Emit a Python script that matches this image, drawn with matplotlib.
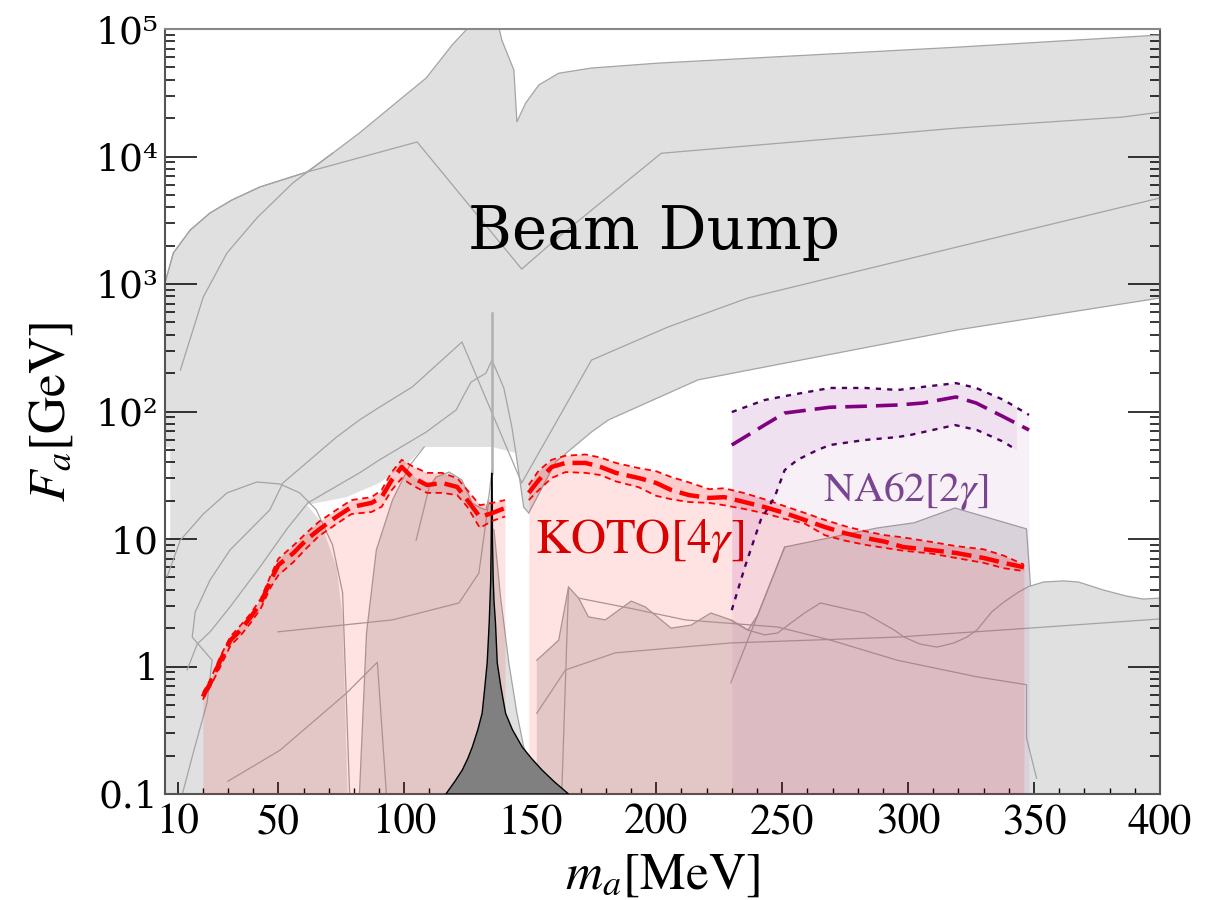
import matplotlib
matplotlib.use('Agg')
import matplotlib.pyplot as plt
import numpy as np

plt.rcParams['mathtext.fontset'] = 'stix'
plt.rcParams['font.family'] = ['STIXGeneral', 'DejaVu Serif']

# ---------------- data (m_a in MeV, F_a in GeV) ----------------
# beam dump region: upper envelope, lower boundary (right to left), left strip
bd_x = [5, 8.3, 15, 22.9, 31.6, 42.7, 61.3, 71.5, 82.2, 98, 108.7, 119, 125.7, 131, 137.5,
        138.7, 143.5, 144.7, 148.2, 153.4, 161.3, 174.3, 200.8, 319.4, 400,
        400, 319.4, 216.6, 181, 174.3, 160.1, 149.4,
        147.4, 144.3, 134.8,
        107.9, 102, 90.1, 77.1, 61.3, 66.4, 73.1, 75.5, 77.5, 5, 5, 7.1, 7.1, 5]
bd_y = [1020, 1750, 2650, 3610, 4560, 5770, 7550, 10600, 15300, 27700, 41300, 75000, 1.04e5, 2e5, 1.04e5,
        82000, 47700, 18700, 26300, 36400, 45000, 49400, 54000, 72000, 89700,
        777, 436, 177, 85.8, 69, 40.2, 16,
        17.8, 47.3, 52.7,
        52.7, 40.2, 27.5, 21.3, 18.5, 14.1, 6.03, 2.45, 0.1, 0.1, 9.8, 9.8, 52.7, 52.7]

# narrow sliver right of the pion pole
sl_x = [134.8, 135.6, 138.2, 141.5, 144.7, 147.4, 149.4, 134.8]
sl_y = [40, 11.8, 3.5, 1.07, 0.43, 0.234, 0.18, 0.18]

# dome region between 82 and 135 MeV
dome_x = [82.2, 85, 88.9, 95.3, 101.2, 105.1, 109.9, 112.6, 117.8, 122.9, 126.9, 129.6, 132.4, 134.8, 134.8]
dome_y = [0.1, 1.83, 8.2, 20.2, 33.5, 29.6, 25.6, 30.6, 33.5, 29, 19.2, 17.8, 16.9, 20.2, 0.1]

# lower right region
lr_x = [152.6, 152.6, 161.3, 165.2, 169.2, 173.1, 179.8, 190.1, 195.7, 205.9, 213.8, 221.7, 229.6,
        236.4, 240.3, 251, 287.7, 302.4, 318.6, 347, 348.6, 353.8, 361.7, 367.6, 377.5, 386.6,
        393.3, 400, 400]
lr_y = [0.1, 1.12, 1.61, 4.2, 3.44, 2.45, 2.32, 3.26, 2.93, 2.0, 2.11, 2.63, 2.32,
        1.93, 2.53, 8.65, 12.2, 13.4, 17.5, 12, 4.28, 4.6, 4.69, 4.6, 3.98, 3.57,
        3.38, 3.44, 0.1]

# individual limit curves drawn as thin gray lines
curves = [
    ([5, 8.3, 15, 22.9, 31.6, 42.7, 61.3, 105.1, 146.6, 161.3, 202, 319.4, 385.4, 400],
     [1020, 1750, 2650, 3610, 4560, 5770, 7550, 13000, 1310, 2340, 10600, 16700, 20400, 22300]),
    ([11.1, 20.2, 29.6, 41.5, 55.7, 71.5], [211, 791, 1750, 3300, 6190, 10600]),
    ([11.9, 16.2, 21.7, 23.7, 15.8, 17, 22.9, 30.8, 46.6, 51.8, 73.1, 82.2, 90.1, 103.2, 122.9,
      146.6, 174.3, 204.7, 236.4, 319.4, 400],
     [0.1, 0.21, 0.52, 1.12, 1.70, 2.68, 4.77, 8.2, 16.9, 27.5, 63, 85.8, 108, 156, 351,
      27.5, 253, 460, 777, 1950, 4730]),
    ([13.8, 17.8, 22.9, 30.8, 42.7, 53.4, 61.7, 82.2, 90.1, 108.7, 120.6, 123.7, 126.5, 132.4,
      134.8, 139.5, 142.7, 144.3, 147.4, 149.4],
     [0.94, 1.5, 1.87, 2.93, 6.03, 12, 19.2, 33, 41.7, 69, 103, 135, 170, 200,
      253, 153, 75.5, 47.3, 17.8, 16]),
    ([5.9, 11.1, 20.2, 29.6, 41.5, 50.6, 58.5, 65, 71.5, 75.5, 78.3],
     [5.1, 9.8, 15.7, 23, 28, 27, 23, 17, 9.0, 3.8, 0.1]),
    ([82.2, 85, 88.9, 95.3, 102, 107.9], [0.1, 1.83, 8.2, 20.2, 37.4, 52.7]),
    ([104.7, 109.9, 112.6, 117.8, 122.9, 126.9, 129.6, 132.4, 133.6, 134.8],
     [9.8, 25.6, 30.6, 33.5, 29, 19.2, 17.8, 16.9, 21.6, 35]),
    ([49.8, 95.3, 121.7, 129.6, 133.6], [1.87, 2.32, 3.15, 5.4, 20.2]),
    ([30, 50.6, 77.1, 89.3, 92.9], [0.126, 0.22, 0.62, 1.08, 0.1]),
    ([152.6, 164, 183.8, 229.6, 295.7, 348.2, 400], [0.43, 0.94, 1.28, 1.53, 1.70, 2.0, 2.36]),
    ([169.2, 190.1, 211.5, 248.2, 269.2, 295.7, 327.3, 347, 347, 351],
     [3.44, 2.85, 2.32, 2.04, 1.61, 1.12, 0.83, 0.72, 0.275, 0.133]),
    ([229.6, 236.4, 243.1, 248.2, 253.4, 258.9, 265.2, 282.6, 294.5, 298.4, 304.7, 311.5, 318.2,
      323.3, 327.3, 333.2, 338, 343.9, 348.2],
     [2.32, 1.93, 1.77, 1.83, 2.19, 2.63, 3.15, 2.63, 1.93, 1.70, 1.50, 1.42, 1.53,
      1.70, 1.93, 2.68, 3.2, 3.84, 4.28]),
    ([165.2, 162.5], [4.2, 0.1]),
    ([229.6, 251], [0.743, 8.65]),
    ([135.6, 138.2, 141.5, 144.7, 147.4, 149.4], [11.8, 3.5, 1.07, 0.43, 0.234, 0.18]),
]
pion_line_y = [593, 33]

# pion pole
pi_x = [116.5, 120, 123, 125.2, 127, 129.2, 130.9, 132, 132.9, 133.7, 134.3, 134.5, 134.7,
        135.0, 135.3, 135.6, 136.2, 136.9, 138.3, 140.2, 142.9, 146.8, 150.5, 154.7, 159.5, 165.2]
pi_y = [0.1, 0.125, 0.154, 0.19, 0.234, 0.32, 0.43, 0.7, 1.07, 2.2, 4.77, 10, 33,
        10, 4.77, 3.3, 2.2, 1.07, 0.7, 0.43, 0.32, 0.234, 0.19, 0.154, 0.125, 0.1]

# KOTO [4 gamma]
koto1_x = [20, 23, 27, 31, 35, 39, 43, 47, 50, 56, 61, 66, 73, 79, 87, 91, 95, 99, 103, 109,
           115, 121, 125, 130, 135, 140]
koto1_c = [0.58, 0.74, 1.12, 1.61, 1.93, 2.44, 3.15, 4.77, 6.25, 7.76, 9.8, 11.8, 14.9, 17.8,
           19.2, 21.3, 29, 36.7, 30.6, 26.5, 27.5, 25.6, 20.2, 14.9, 16, 17.5]
koto1_hi = [0.62, 0.79, 1.2, 1.72, 2.1, 2.6, 3.4, 5.2, 7.0, 8.9, 11.1, 13.6, 16.9, 20.2, 21.3,
            24.2, 33.5, 41.8, 37.4, 33, 33, 30, 24.2, 18.4, 19.2, 20.2]
koto1_lo = [0.55, 0.70, 1.0, 1.46, 1.75, 2.2, 2.85, 4.2, 5.2, 6.6, 8.4, 10.5, 13.1, 15.7, 16.3,
            17.9, 24.2, 30, 26.5, 23, 23, 22.1, 17.9, 12.2, 13.9, 15]
koto2_x = [149.4, 153.4, 158.5, 164, 172, 178, 184, 193, 200, 206, 213, 221, 227, 235, 243, 251,
           259, 267, 275, 283, 291, 298, 309, 319, 330, 338, 346]
koto2_c = [23, 29, 36.7, 39.5, 39.5, 36.7, 33, 30.1, 27.5, 24.2, 22.1, 21, 21.3, 19.5, 17.8, 16,
           14.1, 12.4, 11.1, 10.2, 9.5, 8.65, 8.2, 7.77, 7.1, 6.5, 6.0]
koto2_hi = [26.5, 34.5, 41.8, 45, 46, 43.5, 39.5, 36, 34, 30.6, 27.8, 24.6, 25, 22.9, 20.5, 18.1,
            16, 14.1, 12.6, 11.5, 10.7, 10.3, 9.5, 8.8, 8.3, 7.4, 6.3]
koto2_lo = [20.2, 24.2, 30.1, 33.5, 33, 31.7, 28.3, 25.5, 21.8, 20.5, 19.5, 19.2, 18.4, 17.2, 15.9,
            14.4, 13.2, 10.7, 9.7, 9.0, 8.5, 8.1, 7.7, 7.1, 6.5, 5.9, 5.6]

# NA62 [2 gamma]
na62_x = [230, 243, 251, 269, 283, 296, 306, 319, 327, 338, 348]
na62_c = [54.6, 78.3, 97.3, 108, 110, 112.5, 116.6, 130, 116.6, 90.6, 71.6]
na62_hi = [99, 123, 132, 153, 153, 147.5, 156, 167, 153, 123, 94]
na62_lo_x = [230, 235.2, 241.5, 247, 251, 256, 264, 269, 282.6, 295.7, 300.8, 318.6, 327.3, 338, 343]
na62_lo = [2.77, 6.03, 14.1, 21.3, 34.7, 41.7, 49.9, 54.6, 59.7, 63, 65.4, 78.3, 71.6, 57.7, 49.9]

# ---------------- figure ----------------
fig = plt.figure(figsize=(12.24, 9), dpi=100)
ax = fig.add_axes([165 / 1224, 1 - 794 / 900, 995 / 1224, 765 / 900])
ax.set_yscale('log')
ax.set_xlim(5, 400)
ax.set_ylim(0.1, 1e5)

gfill = '#e0e0e0'
gline = '#a4a4a4'
ax.fill(bd_x, bd_y, color=gfill, lw=0, zorder=1)
ax.fill(sl_x, sl_y, color=gfill, lw=0, zorder=1)
ax.fill(dome_x, dome_y, color=gfill, lw=0, zorder=1)
ax.fill(lr_x, lr_y, color=gfill, lw=0, zorder=1)

ax.plot(bd_x[:25], bd_y[:25], color=gline, lw=0.9, zorder=2)
ax.plot(bd_x[25:32], bd_y[25:32], color=gline, lw=0.9, zorder=2)
ax.plot(lr_x[1:-1], lr_y[1:-1], color=gline, lw=0.9, zorder=2)
for cx, cy in curves:
    ax.plot(cx, cy, color=gline, lw=0.9, zorder=2)
ax.plot([134.8, 134.8], pion_line_y, color='#b0b0b0', lw=1.8, zorder=2)

# KOTO
kred = '#ff0000'
for kx, kh, kl in [(koto1_x, koto1_hi, koto1_lo), (koto2_x, koto2_hi, koto2_lo)]:
    ax.fill_between(kx, 0.1, kh, color=kred, alpha=0.11, lw=0, zorder=3)
    ax.fill_between(kx, kl, kh, color=kred, alpha=0.10, lw=0, zorder=3)

# NA62
purp = '#800080'
ax.fill_between(na62_x, 0.1, na62_hi, color=purp, alpha=0.06, lw=0, zorder=3)
ax.fill_between(na62_lo_x, na62_lo, np.interp(na62_lo_x, na62_x, na62_hi), color=purp,
                alpha=0.06, lw=0, zorder=3)

# pion pole
ax.fill(pi_x, pi_y, facecolor='#808080', edgecolor='black', lw=1.0, zorder=5)

for kx, kc, kh, kl in [(koto1_x, koto1_c, koto1_hi, koto1_lo), (koto2_x, koto2_c, koto2_hi, koto2_lo)]:
    ax.plot(kx, kh, color=kred, lw=1.3, dashes=(3.5, 2.5), zorder=6)
    ax.plot(kx, kl, color=kred, lw=1.3, dashes=(3.5, 2.5), zorder=6)
    ax.plot(kx, kc, color=kred, lw=3.2, dashes=(4.5, 1.8), zorder=7)

ax.plot(na62_x, na62_hi, color='#4b0060', lw=1.7, dashes=(2.2, 2.6), zorder=6)
ax.plot(na62_lo_x, na62_lo, color='#4b0060', lw=1.7, dashes=(2.2, 2.6), zorder=6)
ax.plot(na62_x, na62_c, color=purp, lw=2.6, dashes=(6, 2.5), zorder=7)

# labels in the plot
ax.text(199, 2560, 'Beam Dump', fontfamily='DejaVu Serif', fontsize=43, ha='center',
        va='center', color='black', zorder=8)
ax.text(193.5, 9.6, r'KOTO[4$\gamma$]', fontsize=35, color='#d80000', ha='center',
        va='center', zorder=8)
ax.text(299, 23.8, r'NA62[2$\gamma$]', fontsize=30, color='#7a4590', ha='center',
        va='center', zorder=8)

# axes
ax.set_xticks([10, 50, 100, 150, 200, 250, 300, 350, 400])
ax.set_xticklabels(['10', '50', '100', '150', '200', '250', '300', '350', '400'], fontsize=31)
ax.set_xticks(np.arange(10, 400, 10), minor=True)
ax.set_yticks([0.1, 1, 10, 100, 1e3, 1e4, 1e5])
ax.set_yticklabels(['0.1', '1', '10', '10²', '10³', '10⁴', '10⁵'], fontfamily='DejaVu Serif',
                   fontsize=27)
ax.yaxis.set_minor_locator(matplotlib.ticker.LogLocator(base=10, subs=np.arange(2, 10)))
ax.yaxis.set_minor_formatter(matplotlib.ticker.NullFormatter())

ax.tick_params(axis='y', which='major', direction='in', length=23, width=1.1, left=True,
               right=True, pad=5)
ax.tick_params(axis='y', which='minor', direction='in', length=7, width=1.1, left=True, right=True)
ax.tick_params(axis='x', which='major', direction='in', length=9, width=1.1, bottom=True,
               top=False, pad=7)
ax.tick_params(axis='x', which='minor', direction='in', length=4.5, width=1.0, bottom=True,
               top=False)

for s in ['left', 'right', 'bottom']:
    ax.spines[s].set_color('#555555')
    ax.spines[s].set_linewidth(1.5)
ax.spines['top'].set_color('#888888')
ax.spines['top'].set_linewidth(1.5)

ax.set_xlabel(r'$m_a$[MeV]', fontsize=37, labelpad=8)
ax.set_ylabel(r'$F_a$[GeV]', fontsize=37, labelpad=14)

fig.savefig('out.png', dpi=100)
